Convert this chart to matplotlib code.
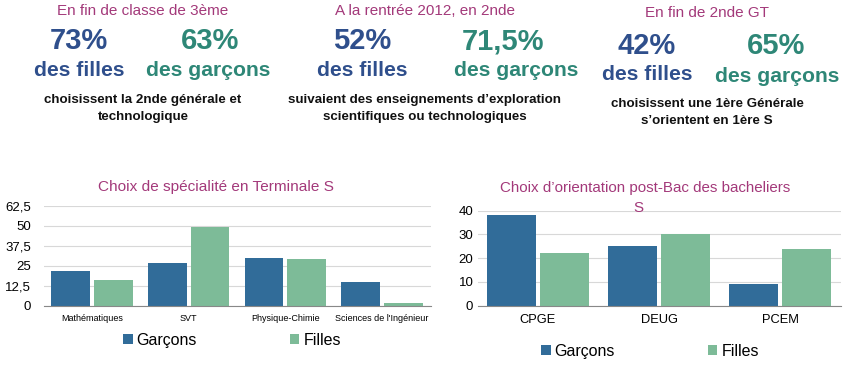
import numpy as np
import matplotlib
matplotlib.use("Agg")
import matplotlib.pyplot as plt

plt.rcParams['font.family'] = ['Liberation Sans', 'DejaVu Sans']

# Data
spe_categories = ["Mathématiques", "SVT", "Physique-Chimie", "Sciences de l'Ingénieur"]
spe_garcons = [22, 27, 30, 15]
spe_filles = [16, 49, 29, 2]
spe_ticks = [0, 12.5, 25, 37.5, 50, 62.5]
spe_ticklabels = ["0", "12,5", "25", "37,5", "50", "62,5"]

post_categories = ["CPGE", "DEUG", "PCEM"]
post_garcons = [38, 25, 9]
post_filles = [22, 30, 24]
post_ticks = [0, 10, 20, 30, 40]

BLUE = "#316c99"
GREEN = "#7dbb98"
TITLE_COL = "#a3397a"
FILLE_COL = "#2f4f8c"
GARCON_COL = "#2e8777"
W, H = 850, 365

fig = plt.figure(figsize=(8.5, 3.65), dpi=100)


def ftext(x, y, s, **kw):
    # pixel coords from the top-left corner
    fig.text(x / W, 1 - y / H, s, ha="center", va="center", **kw)


# --- top key figures ---
# (centre x, title, filles x / pct, garcons pct x / pct, garcons label x, lines, shift)
blocks = [
    (143, "En fin de classe de 3ème", (79, "73%"), (210, "63%"), 208,
     ["choisissent la 2nde générale et", "technologique"], 0),
    (425, "A la rentrée 2012, en 2nde", (362, "52%"), (503, "71,5%"), 516,
     ["suivaient des enseignements d’exploration", "scientifiques ou technologiques"], 0),
    (707, "En fin de 2nde GT", (647, "42%"), (776, "65%"), 777,
     ["choisissent une 1ère Générale", "s’orientent en 1ère S"], 4),
]
for cx, title, (fx, fpct), (gx, gpct), glx, lines, dy in blocks:
    ftext(cx, 11 + dy / 2, title, color=TITLE_COL, fontsize=11)
    fdy = 5 if dy else 0
    ftext(fx, 41 + fdy, fpct, color=FILLE_COL, fontsize=21, fontweight="bold")
    ftext(gx, 41 + fdy, gpct, color=GARCON_COL, fontsize=21, fontweight="bold")
    ftext(fx, 70 + fdy, "des filles", color=FILLE_COL, fontsize=15.2, fontweight="bold")
    ftext(glx, 71 + fdy, "des garçons", color=GARCON_COL, fontsize=15.2, fontweight="bold")
    for i, line in enumerate(lines):
        ftext(cx, 100 + dy + i * 17, line, color="#111111", fontsize=9.6, fontweight="bold")


def bar_chart(ax, cats, garcons, filles, ticks, ticklabels, top, xfs, ypad):
    x = np.arange(len(cats))
    ax.bar(x - 0.22, garcons, width=0.4, color=BLUE, label="Garçons", zorder=3)
    ax.bar(x + 0.22, filles, width=0.4, color=GREEN, label="Filles", zorder=3)
    ax.set_xlim(-0.5, len(cats) - 0.5)
    ax.set_ylim(0, top)
    ax.set_yticks(ticks)
    ax.set_yticklabels(ticklabels, fontsize=9.5)
    ax.set_xticks(x)
    ax.set_xticklabels(cats, fontsize=xfs)
    ax.tick_params(axis="y", length=0, pad=ypad)
    ax.tick_params(axis="x", length=0, pad=6)
    ax.grid(axis="y", color="#d8d8d8", linewidth=0.8, zorder=0)
    for s in ["left", "right", "top"]:
        ax.spines[s].set_visible(False)
    ax.spines["bottom"].set_color("#888888")
    ax.spines["bottom"].set_zorder(4)


# --- left chart ---
ax1 = fig.add_axes([43.5 / W, 1 - 305.7 / H, 387 / W, 100 / H])
bar_chart(ax1, spe_categories, spe_garcons, spe_filles,
          spe_ticks, spe_ticklabels, 62.5, 6.5, 9)
ftext(216.5, 187, "Choix de spécialité en Terminale S", color=TITLE_COL, fontsize=11.1)
ax1.legend(loc="center", bbox_to_anchor=(232 / W, 1 - 340.5 / H),
           bbox_transform=fig.transFigure, ncol=2, frameon=False, fontsize=11.5,
           handlelength=0.6, handleheight=0.6, handletextpad=0.25, columnspacing=5.8)

# --- right chart ---
ax2 = fig.add_axes([477.5 / W, 1 - 305.5 / H, 363 / W, 94.8 / H])
bar_chart(ax2, post_categories, post_garcons, post_filles,
          post_ticks, [str(t) for t in post_ticks], 40, 9.3, 3)
ftext(645, 188, "Choix d’orientation post-Bac des bacheliers", color=TITLE_COL, fontsize=10.9)
ftext(638, 208, "S", color=TITLE_COL, fontsize=10.9)
ax2.legend(loc="center", bbox_to_anchor=(650 / W, 1 - 351.5 / H),
           bbox_transform=fig.transFigure, ncol=2, frameon=False, fontsize=11.5,
           handlelength=0.6, handleheight=0.6, handletextpad=0.25, columnspacing=5.8)

fig.savefig("out.png", dpi=100)
